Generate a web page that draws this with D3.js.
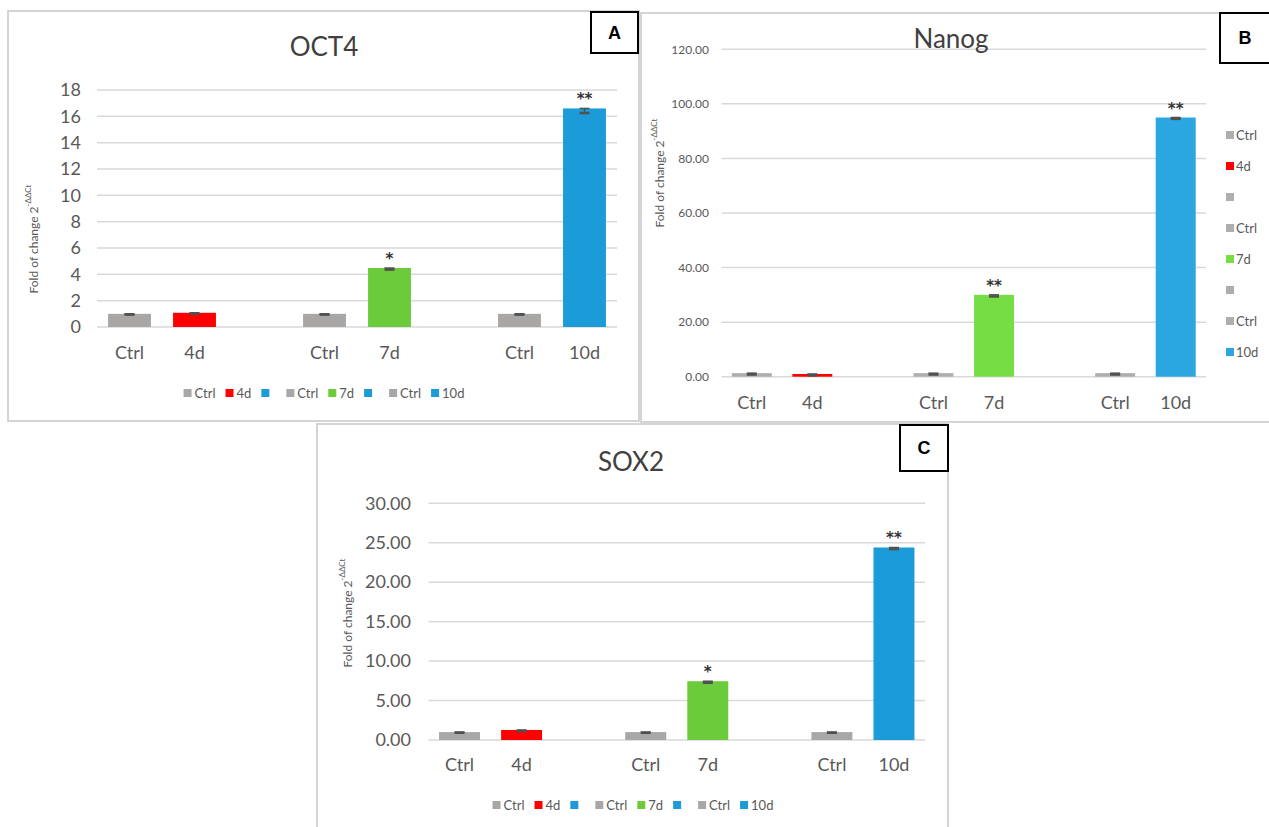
<!DOCTYPE html>
<html>
<head>
<meta charset="utf-8">
<script src="https://cdn.jsdelivr.net/npm/d3@7"></script>
<style>
  html, body { margin: 0; padding: 0; background: #fff; }
  svg { display: block; font-family: Lato, "Open Sans", "Liberation Sans", sans-serif; }
</style>
</head>
<body>
<svg id="chart" width="1269" height="827"></svg>
<script>
// ---------------- DATA ----------------
const categories = ["Ctrl", "4d", "", "Ctrl", "7d", "", "Ctrl", "10d"];

const oct4Values = [1.0, 1.08, null, 1.0, 4.48, null, 1.0, 16.6];
const oct4Err    = [0.06, 0.08, null, 0.06, 0.12, null, 0.06, 0.35];
const oct4Stars  = ["", "", "", "", "*", "", "", "**"];
const oct4Ticks  = [0, 2, 4, 6, 8, 10, 12, 14, 16, 18];

const nanogValues = [1.3, 1.0, null, 1.3, 30.0, null, 1.3, 95.0];
const nanogErr    = [0.5, 0.5, null, 0.5, 0.6, null, 0.5, 0.5];
const nanogStars  = ["", "", "", "", "**", "", "", "**"];
const nanogTicks  = [0, 20, 40, 60, 80, 100, 120];

const sox2Values = [1.0, 1.27, null, 1.0, 7.45, null, 1.0, 24.4];
const sox2Err    = [0.08, 0.15, null, 0.08, 0.2, null, 0.08, 0.2];
const sox2Stars  = ["", "", "", "", "*", "", "", "**"];
const sox2Ticks  = [0, 5, 10, 15, 20, 25, 30];

const legendLabels = ["Ctrl", "4d", "", "Ctrl", "7d", "", "Ctrl", "10d"];
const colorsA = ["#a9a6a6", "#ff0000", "#1b9bd7", "#a9a6a6", "#6ccb3a", "#1b9bd7", "#a9a6a6", "#1b9bd7"];
const colorsB = ["#b0adad", "#ff0000", "#b0adad", "#b0adad", "#77dd44", "#b0adad", "#b0adad", "#2aa6e0"];
const colorsC = ["#a9a6a6", "#ff0000", "#1b9bd7", "#a9a6a6", "#6ccb3a", "#1b9bd7", "#a9a6a6", "#1b9bd7"];

// ---------------- DRAW ----------------
const svg = d3.select("#chart");
const textGray = "#595959";
const gridGray = "#d9d9d9";

function drawPanel(cfg) {
  const g = svg.append("g");
  // frame
  g.append("rect")
    .attr("x", cfg.frame[0]).attr("y", cfg.frame[1])
    .attr("width", cfg.frame[2]).attr("height", cfg.frame[3])
    .attr("fill", "#fff").attr("stroke", "#d4d4d4").attr("stroke-width", 2);

  const x = d3.scaleBand().domain(d3.range(categories.length))
    .range([cfg.plotX[0], cfg.plotX[1]]).paddingInner(0.34).paddingOuter(0.17);
  const y = d3.scaleLinear().domain(cfg.domain).range([cfg.plotY[0], cfg.plotY[1]]);

  // gridlines
  g.append("g").selectAll("line").data(cfg.ticks).join("line")
    .attr("x1", cfg.plotX[0]).attr("x2", cfg.plotX[1])
    .attr("y1", d => y(d)).attr("y2", d => y(d))
    .attr("stroke", gridGray).attr("stroke-width", 1.5);

  // y axis tick labels via d3 axis
  const axis = d3.axisLeft(y).tickValues(cfg.ticks).tickFormat(cfg.fmt).tickSize(0).tickPadding(0);
  const ax = g.append("g").attr("transform", `translate(${cfg.tickRight},0)`).call(axis);
  ax.select(".domain").remove();
  ax.selectAll("text").attr("fill", textGray).attr("font-size", cfg.tickFont)
    .attr("font-family", "Lato, 'Open Sans', sans-serif");

  // bars
  const idx = d3.range(categories.length).filter(i => cfg.values[i] != null);
  g.append("g").selectAll("rect").data(idx).join("rect")
    .attr("x", i => x(i)).attr("width", x.bandwidth())
    .attr("y", i => y(cfg.values[i])).attr("height", i => y(0) - y(cfg.values[i]))
    .attr("fill", i => cfg.colors[i]);

  // error bars (minus direction with cap)
  const eg = g.append("g").attr("stroke", "#505050");
  idx.forEach(i => {
    const cx = x(i) + x.bandwidth() / 2;
    const v = cfg.values[i], e = cfg.err[i];
    eg.append("line").attr("x1", cx).attr("x2", cx).attr("y1", y(v)).attr("y2", y(v - e)).attr("stroke-width", 1.5);
    eg.append("line").attr("x1", cx - 5).attr("x2", cx + 5).attr("y1", y(v - e)).attr("y2", y(v - e)).attr("stroke-width", 2.5);
    eg.append("line").attr("x1", cx - 5).attr("x2", cx + 5).attr("y1", y(v)).attr("y2", y(v)).attr("stroke-width", 1.5);
  });

  // stars
  g.append("g").selectAll("text").data(idx.filter(i => cfg.stars[i])).join("text")
    .attr("x", i => x(i) + x.bandwidth() / 2)
    .attr("y", i => y(cfg.values[i]) - 4)
    .attr("text-anchor", "middle").attr("font-size", 15).attr("font-weight", "bold")
    .attr("fill", "#333").attr("font-family", "'DejaVu Sans', sans-serif")
    .text(i => cfg.stars[i]);

  // x labels
  g.append("g").selectAll("text").data(d3.range(categories.length)).join("text")
    .attr("x", i => x(i) + x.bandwidth() / 2).attr("y", cfg.xLabelY)
    .attr("text-anchor", "middle").attr("dominant-baseline", "central")
    .attr("font-size", 18).attr("fill", textGray)
    .text(i => categories[i]);

  // title
  g.append("text").attr("x", cfg.title[1]).attr("y", cfg.title[2])
    .attr("text-anchor", "middle").attr("dominant-baseline", "central")
    .attr("font-size", 26).attr("fill", "#404040").text(cfg.title[0]);

  // y label
  const yl = g.append("text")
    .attr("transform", `translate(${cfg.yLabel[0]},${cfg.yLabel[1]}) rotate(-90)`)
    .attr("text-anchor", "middle").attr("dominant-baseline", "central")
    .attr("font-size", 12).attr("fill", textGray);
  yl.append("tspan").text("Fold of change 2");
  yl.append("tspan").attr("font-size", 8).attr("dy", -5).text("-ΔΔCt");

  // letter box
  g.append("rect").attr("x", cfg.box[1]).attr("y", cfg.box[2])
    .attr("width", cfg.box[3]).attr("height", cfg.box[4])
    .attr("fill", "#fff").attr("stroke", "#000").attr("stroke-width", 2);
  g.append("text").attr("x", cfg.box[1] + cfg.box[3] / 2).attr("y", cfg.box[2] + cfg.box[4] / 2)
    .attr("text-anchor", "middle").attr("dominant-baseline", "central")
    .attr("font-size", 18).attr("font-weight", "bold").attr("fill", "#000")
    .attr("font-family", "'Liberation Sans', Arial, sans-serif")
    .text(cfg.box[0]);

  // legend
  const lg = g.append("g");
  if (cfg.legend.type === "h") {
    let cur = 0;
    const items = [];
    legendLabels.forEach((lab, i) => {
      const it = lg.append("g");
      it.append("rect").attr("x", 0).attr("y", -4).attr("width", 8).attr("height", 8).attr("fill", cfg.colors[i]);
      const t = it.append("text").attr("x", 11).attr("y", 0).attr("dominant-baseline", "central")
        .attr("font-size", 13).attr("fill", textGray).text(lab);
      const w = 11 + (lab ? t.node().getComputedTextLength() : 4);
      items.push([it, cur]);
      cur += w + 10;
    });
    const total = cur - 10;
    const start = cfg.legend.cx - total / 2;
    items.forEach(([it, off]) => it.attr("transform", `translate(${start + off},${cfg.legend.y})`));
  } else {
    legendLabels.forEach((lab, i) => {
      const it = lg.append("g").attr("transform", `translate(${cfg.legend.x},${cfg.legend.y0 + i * cfg.legend.step})`);
      it.append("rect").attr("x", 0).attr("y", -4).attr("width", 8).attr("height", 8).attr("fill", cfg.colors[i]);
      it.append("text").attr("x", 10).attr("y", 0).attr("dominant-baseline", "central")
        .attr("font-size", 13).attr("fill", textGray).text(lab);
    });
  }
}

drawPanel({
  frame: [8, 11, 631, 410],
  plotX: [97, 617], plotY: [327, 90], domain: [0, 18],
  ticks: oct4Ticks, fmt: d3.format("d"), tickFont: 18, tickRight: 81,
  values: oct4Values, err: oct4Err, stars: oct4Stars, colors: colorsA,
  xLabelY: 352, title: ["OCT4", 324, 46], yLabel: [33, 239],
  box: ["A", 591, 12, 47, 41],
  legend: { type: "h", y: 393, cx: 324 }
});

drawPanel({
  frame: [641, 13, 640, 409],
  plotX: [721.5, 1206], plotY: [376.7, 49.3], domain: [0, 120],
  ticks: nanogTicks, fmt: d3.format(".2f"), tickFont: 12, tickRight: 709,
  values: nanogValues, err: nanogErr, stars: nanogStars, colors: colorsB,
  xLabelY: 402, title: ["Nanog", 951, 38], yLabel: [659, 173],
  box: ["B", 1220, 13, 50, 50],
  legend: { type: "v", x: 1226, y0: 135, step: 31 }
});

drawPanel({
  frame: [317, 424, 631, 420],
  plotX: [428.5, 925], plotY: [740, 503.3], domain: [0, 30],
  ticks: sox2Ticks, fmt: d3.format(".2f"), tickFont: 18, tickRight: 411,
  values: sox2Values, err: sox2Err, stars: sox2Stars, colors: colorsC,
  xLabelY: 764, title: ["SOX2", 631, 461], yLabel: [347, 613],
  box: ["C", 900, 425, 48, 46],
  legend: { type: "h", y: 805, cx: 633 }
});
</script>
</body>
</html>
